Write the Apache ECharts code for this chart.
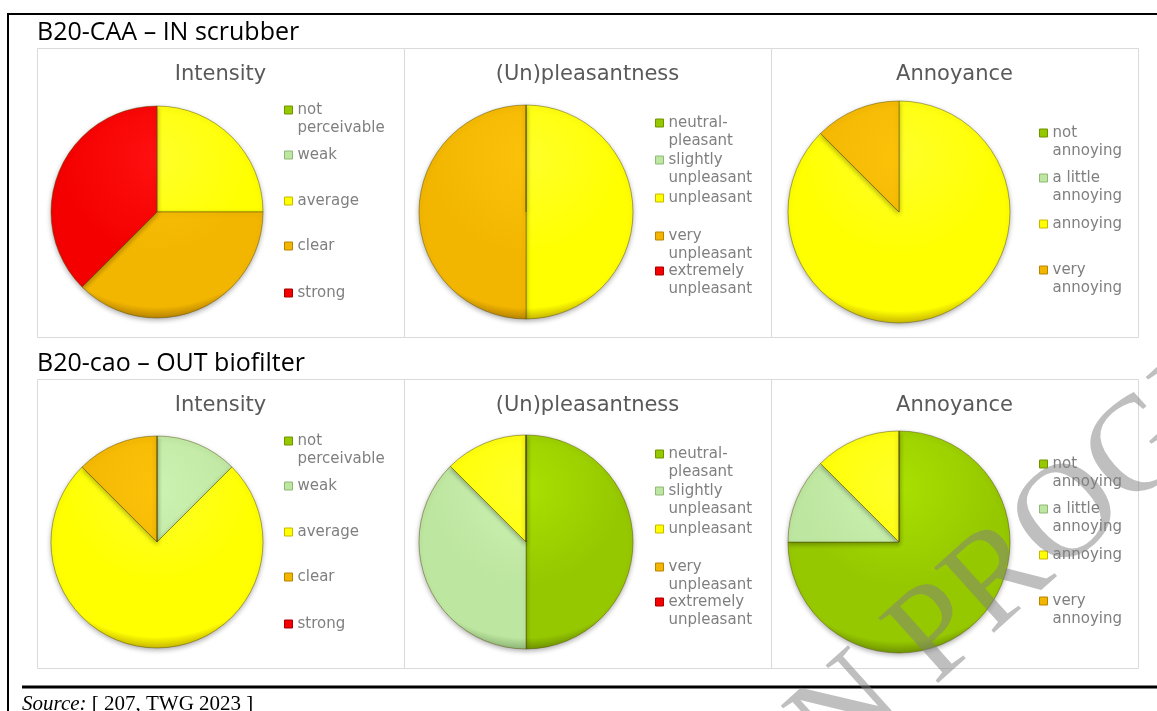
<!DOCTYPE html>
<html>
<head>
<meta charset="utf-8">
<script src="https://cdn.jsdelivr.net/npm/echarts@6/dist/echarts.min.js"></script>
<style>
  html, body { margin: 0; padding: 0; background: #fff; }
  #chart { width: 1157px; height: 711px; }
</style>
</head>
<body>
<div id="chart"></div>
<script>
// categories
var intensityCats = ['not perceivable', 'weak', 'average', 'clear', 'strong'];
var pleasantCats = ['neutral-pleasant', 'slightly unpleasant', 'unpleasant', 'very unpleasant', 'extremely unpleasant'];
var annoyCats = ['not annoying', 'a little annoying', 'annoying', 'very annoying'];

// legend labels (as wrapped in the picture)
var intensityLabels = ['not\nperceivable', 'weak', 'average', 'clear', 'strong'];
var pleasantLabels = ['neutral-\npleasant', 'slightly\nunpleasant', 'unpleasant', 'very\nunpleasant', 'extremely\nunpleasant'];
var annoyLabels = ['not\nannoying', 'a little\nannoying', 'annoying', 'very\nannoying'];

// panelist counts (8 per panel)
var inIntensity = [0, 0, 2, 3, 3];
var inPleasant = [0, 0, 4, 4, 0];
var inAnnoy = [0, 0, 7, 1];
var outIntensity = [0, 1, 6, 1, 0];
var outPleasant = [4, 3, 1, 0, 0];
var outAnnoy = [6, 1, 1, 0];

var rowTitles = ['B20-CAA \u2013 IN scrubber', 'B20-cao \u2013 OUT biofilter'];
var panelTitles = ['Intensity', '(Un)pleasantness', 'Annoyance'];

// colour ramp: light, base, rim
var ramp = [
  ['#a9e000', '#96c800', '#6f9400'],   // green
  ['#cdf2b2', '#bde6a0', '#8fb878'],   // light green
  ['#ffff2a', '#ffff00', '#c9b800'],   // yellow
  ['#fcc20a', '#f2b600', '#b98400'],   // orange
  ['#ff1010', '#f40000', '#a80000']    // red
];

var chart = echarts.init(document.getElementById('chart'));

var ROW_OFF = 331;
var panels = [
  // x0, x1, pie cx, r, legend icon x, legend first-line y's
  {x0: 37, x1: 404, cx: 157, r: 106, lx: 284, ly: [110, 155, 201, 246, 293]},
  {x0: 404, x1: 771, cx: 526, r: 107, lx: 655, ly: [123, 160, 198, 236, 271]},
  {x0: 771, x1: 1138, cx: 899, r: 111, lx: 1039, ly: [133, 178, 224, 270]}
];
var rows = [
  {y0: 48, y1: 337, cy: 212, data: [inIntensity, inPleasant, inAnnoy]},
  {y0: 379, y1: 668, cy: 542, data: [outIntensity, outPleasant, outAnnoy]}
];
var catSets = [intensityCats, pleasantCats, annoyCats];
var labelSets = [intensityLabels, pleasantLabels, annoyLabels];

var series = [], legends = [], titles = [], graphics = [];

rowTitles.forEach(function (t, i) {
  titles.push({
    text: t, left: 37, top: 20 + i * ROW_OFF, padding: 0,
    textStyle: {fontFamily: 'Open Sans', fontSize: 25, fontWeight: 'normal', color: '#000'}
  });
});

rows.forEach(function (row, ri) {
  panels.forEach(function (p, pi) {
    var cats = catSets[pi], labels = labelSets[pi], vals = row.data[pi];
    var cy = row.cy;
    graphics.push({
      type: 'rect', z: 0, silent: true,
      shape: {x: p.x0 + 0.5, y: row.y0 + 0.5, width: p.x1 - p.x0, height: row.y1 - row.y0},
      style: {fill: '#fff', stroke: '#dadada', lineWidth: 1}
    });
    titles.push({
      text: panelTitles[pi], left: (p.x0 + p.x1) / 2, textAlign: 'center',
      top: 64 + ri * ROW_OFF, padding: 0,
      textStyle: {fontFamily: 'DejaVu Sans', fontSize: 21, fontWeight: 'normal', color: '#595959'}
    });
    series.push({
      type: 'pie', center: [p.cx, cy], radius: p.r, startAngle: 90, clockwise: true,
      label: {show: false}, labelLine: {show: false}, silent: true,
      emphasis: {disabled: true}, z: 3,
      itemStyle: {borderColor: 'rgba(80,70,0,0.45)', borderWidth: 1,
        shadowBlur: 5, shadowColor: 'rgba(0,0,0,0.3)', shadowOffsetY: 2},
      data: cats.map(function (c, k) {
        var col = ramp[k];
        return {
          name: c, value: vals[k],
          itemStyle: {color: {
            type: 'radial', x: p.cx, y: cy - p.r * 0.5, r: p.r * 1.5, global: true,
            colorStops: [
              {offset: 0, color: col[0]},
              {offset: 0.6, color: col[1]},
              {offset: 0.93, color: col[1]},
              {offset: 1, color: col[2]}
            ]
          }}
        };
      })
    });
    cats.forEach(function (c, k) {
      var twoLine = labels[k].indexOf('\n') >= 0;
      var y = p.ly[k] + ri * ROW_OFF;
      // a blank leading line keeps the swatch level with the first text line
      var text = twoLine ? '\n' + labels[k] : labels[k];
      legends.push({
        left: p.lx, top: twoLine ? y - 27 : y - 9, padding: 0, orient: 'vertical',
        itemWidth: 8, itemHeight: 8, icon: 'rect', selectedMode: false,
        formatter: function () { return text; },
        textStyle: {fontFamily: 'DejaVu Sans', fontSize: 15, lineHeight: 18, color: '#7f7f7f'},
        data: [{
          name: c,
          itemStyle: {color: ramp[k][1], borderColor: ramp[k][2], borderWidth: 1, shadowBlur: 0, shadowOffsetY: 0}
        }]
      });
    });
  });
});

// frame lines and source note
graphics.push(
  {type: 'line', z: 10, silent: true, shape: {x1: 8, y1: 14, x2: 1157, y2: 14}, style: {stroke: '#000', lineWidth: 2}},
  {type: 'line', z: 10, silent: true, shape: {x1: 8, y1: 13, x2: 8, y2: 711}, style: {stroke: '#000', lineWidth: 2}},
  {type: 'line', z: 10, silent: true, shape: {x1: 22, y1: 687, x2: 1157, y2: 687}, style: {stroke: '#000', lineWidth: 3}},
  {type: 'text', z: 10, silent: true, x: 22, y: 694,
    style: {text: '{i|Source:} [ 207, TWG 2023 ]', fill: '#000', textVerticalAlign: 'top',
      font: '21px "Liberation Serif"',
      rich: {i: {fontStyle: 'italic', fontFamily: 'Liberation Serif', fontSize: 21}}}},
  {type: 'text', z: 100, silent: true, x: 825, y: 828, rotation: 42 * Math.PI / 180,
    style: {text: 'IN PROGRESS', fill: '#808080', opacity: 0.5,
      font: '135px "Liberation Serif"', textAlign: 'left', textVerticalAlign: 'bottom'}}
);

chart.setOption({
  backgroundColor: '#fff',
  animation: false,
  title: titles,
  legend: legends,
  graphic: graphics,
  series: series
});
</script>
</body>
</html>
